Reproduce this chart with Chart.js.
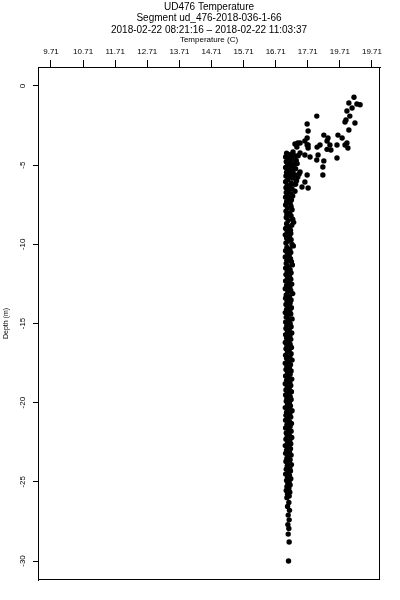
<!DOCTYPE html>
<html>
<head>
<meta charset="utf-8">
<script src="https://cdn.jsdelivr.net/npm/chart.js@4.4.1/dist/chart.umd.min.js"></script>
<style>
  html, body { margin: 0; padding: 0; background: #fff; }
  canvas { display: block; }
</style>
</head>
<body>
<canvas id="chart" width="400" height="600"></canvas>
<script>
// Titles and tick labels
const titleLines = [
  'UD476 Temperature',
  'Segment ud_476-2018-036-1-66',
  '2018-02-22 08:21:16 \u2013 2018-02-22 11:03:37'
];
const xTickValues = [9.71, 10.71, 11.71, 12.71, 13.71, 14.71, 15.71, 16.71, 17.71, 18.71, 19.71];
const xTickLabels = ['9.71', '10.71', '11.71', '12.71', '13.71', '14.71', '15.71', '16.71', '17.71', '19.71', '19.71'];
const yTickValues = [0, -5, -10, -15, -20, -25, -30];

// Scattered warm layer near the surface
const cloudTemp = [19.15, 19.24, 19.34, 18.99, 18.93, 19.09, 19.02, 19.18, 18.90, 18.87, 18.99,
  17.99, 17.69, 17.72, 17.69, 17.62, 17.31, 17.47, 17.72, 18.09, 18.21, 18.34, 18.31, 18.40,
  18.65, 18.78, 18.93, 18.87, 18.96, 18.62, 18.00, 18.31, 17.72, 17.37, 17.40, 17.69,
  17.25, 17.47, 17.62, 17.78, 18.03, 18.43, 17.99, 18.21, 18.62, 17.22, 17.47, 17.69,
  18.18, 17.40, 17.62, 17.53, 17.72, 18.18, 17.38, 17.44, 17.33, 17.41];
const cloudDepth = [-0.71, -1.14, -1.18, -1.07, -1.58, -1.39, -1.90, -2.34, -2.15, -2.27, -2.78,
  -1.90, -2.40, -2.84, -3.28, -3.47, -3.66, -3.60, -3.73, -3.73, -3.10, -3.28, -3.47, -3.73,
  -3.10, -3.28, -3.60, -3.73, -3.92, -3.73, -3.86, -4.00, -3.92, -3.85, -3.60, -3.73,
  -4.17, -4.23, -4.36, -4.48, -4.36, -4.04, -4.67, -4.73, -4.55, -5.18, -5.43, -5.62,
  -5.62, -5.75, -6.06, -6.38, -6.44, -5.12, -4.90, -5.55, -6.20, -4.40];

// Well mixed column below ~4 m
const columnDepth = [
  -4.25, -4.32, -4.40, -4.48, -4.55, -4.62, -4.70, -4.78, -4.85, -4.93,
  -5.00, -5.08, -5.15, -5.23, -5.30, -5.38, -5.45, -5.52, -5.60, -5.68,
  -5.75, -5.82, -5.90, -5.98, -6.05, -6.12, -6.20, -6.28, -6.35, -6.42,
  -6.50, -6.58, -6.65, -6.72, -6.80, -6.88, -6.95, -7.02, -7.10,
  -7.20, -7.31, -7.40, -7.52, -7.61, -7.70, -7.81, -7.90, -8.01, -8.10,
  -8.21, -8.30, -8.41, -8.50, -8.61, -8.70, -8.80, -8.91, -9.00, -9.11,
  -9.20, -9.31, -9.40, -9.52, -9.60, -9.71, -9.80, -9.92, -10.01, -10.10,
  -10.20, -10.31, -10.40, -10.51, -10.60, -10.71, -10.80, -10.90, -11.01, -11.10,
  -11.21, -11.30, -11.41, -11.50, -11.60, -11.71, -11.80, -11.91, -12.00, -12.11,
  -12.20, -12.31, -12.40, -12.51, -12.60, -12.71, -12.80, -12.91, -13.00, -13.11,
  -13.20, -13.31, -13.40, -13.51, -13.60, -13.71, -13.80, -13.91, -14.00, -14.11,
  -14.20, -14.31, -14.40, -14.51, -14.60, -14.71, -14.80, -14.91, -15.00, -15.11,
  -15.20, -15.31, -15.40, -15.51, -15.60, -15.71, -15.80, -15.91, -16.00, -16.11,
  -16.20, -16.31, -16.40, -16.51, -16.60, -16.71, -16.80, -16.91, -17.00, -17.11,
  -17.20, -17.31, -17.40, -17.51, -17.60, -17.71, -17.80, -17.91, -18.00, -18.11,
  -18.20, -18.31, -18.40, -18.51, -18.60, -18.71, -18.80, -18.91, -19.00, -19.11,
  -19.20, -19.31, -19.40, -19.51, -19.60, -19.71, -19.80, -19.91, -20.00, -20.11,
  -20.20, -20.31, -20.40, -20.51, -20.60, -20.71, -20.80, -20.91, -21.00, -21.11,
  -21.20, -21.31, -21.40, -21.51, -21.60, -21.71, -21.80, -21.91, -22.00, -22.11,
  -22.20, -22.31, -22.40, -22.51, -22.60, -22.71, -22.80, -22.91, -23.00, -23.11,
  -23.20, -23.31, -23.40, -23.51, -23.60, -23.71, -23.80, -23.91, -24.00, -24.11,
  -24.20, -24.31, -24.40, -24.51, -24.60, -24.71, -24.80, -24.91, -25.00, -25.11,
  -25.20, -25.30, -25.42, -25.55, -25.65, -25.78, -25.90, -26.00
];
const columnTemp = [
  17.05, 17.18, 17.30, 17.02, 17.12, 17.22, 17.35, 17.04, 17.16, 17.28,
  17.08, 17.20, 17.02, 17.33, 17.12, 17.24, 17.05, 17.17, 17.30, 17.03,
  17.14, 17.25, 17.09, 17.36, 17.02, 17.19, 17.28, 17.07, 17.15, 17.03,
  17.22, 17.11, 17.31, 17.04, 17.17, 17.08, 17.24, 17.02, 17.14,
  17.20, 17.05, 17.16, 17.02, 17.19, 17.08, 17.22, 17.03, 17.15, 17.06,
  17.19, 17.04, 17.24, 17.10, 17.27, 17.05, 17.21, 17.12, 17.02, 17.17,
  17.07, 17.18, 17.01, 17.14, 17.05, 17.19, 17.09, 17.03, 17.22, 17.26,
  17.06, 17.15, 17.02, 17.18, 17.08, 17.13, 17.01, 17.17, 17.06, 17.20,
  17.04, 17.23, 17.11, 17.02, 17.16, 17.07, 17.19, 17.03, 17.14, 17.08,
  17.18, 17.02, 17.12, 17.21, 17.05, 17.15, 17.01, 17.18, 17.09, 17.24,
  17.04, 17.14, 17.02, 17.19, 17.07, 17.16, 17.03, 17.12, 17.20, 17.05,
  17.15, 17.01, 17.18, 17.09, 17.04, 17.22, 17.11, 17.02, 17.16, 17.06,
  17.19, 17.03, 17.13, 17.08, 17.21, 17.02, 17.15, 17.05, 17.18, 17.10,
  17.01, 17.16, 17.06, 17.20, 17.03, 17.13, 17.08, 17.19, 17.02, 17.15,
  17.05, 17.22, 17.09, 17.01, 17.17, 17.06, 17.14, 17.03, 17.19, 17.08,
  17.16, 17.02, 17.12, 17.21, 17.05, 17.15, 17.01, 17.18, 17.07, 17.13,
  17.03, 17.20, 17.09, 17.02, 17.16, 17.06, 17.19, 17.04, 17.14, 17.08,
  17.17, 17.01, 17.12, 17.22, 17.05, 17.15, 17.03, 17.18, 17.09, 17.02,
  17.14, 17.20, 17.06, 17.16, 17.02, 17.11, 17.19, 17.04, 17.13, 17.07,
  17.21, 17.03, 17.15, 17.08, 17.18, 17.01, 17.12, 17.17, 17.05, 17.14,
  17.02, 17.19, 17.09, 17.06, 17.16, 17.03, 17.13, 17.20, 17.07, 17.15,
  17.04, 17.17, 17.10, 17.02, 17.14, 17.08, 17.18, 17.05, 17.13, 17.09,
  17.16, 17.06, 17.12, 17.04, 17.15, 17.08, 17.13, 17.06
];

// Sparse samples at the bottom of the cast
const tailDepth = [-26.30, -26.55, -26.80, -27.10, -27.40, -27.70, -27.95, -28.30, -28.80, -30.00];
const tailTemp = [17.12, 17.08, 17.14, 17.10, 17.13, 17.09, 17.12, 17.10, 17.13, 17.11];

function toPoints(temps, depths) {
  return temps.map((t, i) => ({ x: t, y: depths[i] }));
}

const points = toPoints(cloudTemp, cloudDepth)
  .concat(toPoints(columnTemp, columnDepth))
  .concat(toPoints(tailTemp, tailDepth));

Chart.defaults.font.family = '"Liberation Sans", Arial, sans-serif';
Chart.defaults.color = '#000';

// box round the plot + rotated depth tick labels
const framePlugin = {
  id: 'frame',
  afterDraw(chart) {
    const { ctx, chartArea: a } = chart;
    const yScale = chart.scales.y;
    ctx.save();
    ctx.strokeStyle = '#000';
    ctx.lineWidth = 1;
    ctx.strokeRect(Math.round(a.left) + 0.5, Math.round(a.top) + 0.5,
      Math.round(a.right - a.left) - 1, Math.round(a.bottom - a.top) - 1);

    ctx.fillStyle = '#000';
    ctx.font = '8px "Liberation Sans", Arial, sans-serif';
    ctx.textAlign = 'center';
    ctx.textBaseline = 'middle';
    yTickValues.forEach(v => {
      const py = yScale.getPixelForValue(v);
      ctx.save();
      ctx.translate(23, py);
      ctx.rotate(-Math.PI / 2);
      ctx.fillText(String(v), 0, 0);
      ctx.restore();
    });
    ctx.restore();
  }
};

new Chart(document.getElementById('chart').getContext('2d'), {
  type: 'scatter',
  data: {
    datasets: [{
      label: 'Temperature',
      data: points,
      pointStyle: 'circle',
      pointRadius: 2.7,
      pointBorderWidth: 0,
      backgroundColor: '#000',
      borderColor: '#000'
    }]
  },
  options: {
    responsive: false,
    animation: false,
    layout: { padding: { top: 0, left: 0, right: 20, bottom: 20 } },
    plugins: {
      legend: { display: false },
      tooltip: { enabled: false },
      title: {
        display: true,
        fullSize: false,
        text: titleLines,
        color: '#000',
        font: { size: 10, weight: 'normal', lineHeight: 1.15 },
        padding: { top: 1, bottom: 0 }
      }
    },
    scales: {
      x: {
        type: 'linear',
        position: 'top',
        min: 9.305,
        max: 19.96,
        afterBuildTicks: scale => { scale.ticks = xTickValues.map(v => ({ value: v })); },
        afterFit: scale => { scale.height = 31.5; },
        grid: { drawOnChartArea: false, drawTicks: true, tickLength: 7, color: '#000' },
        border: { display: true, color: '#000', width: 1 },
        ticks: {
          autoSkip: false,
          maxRotation: 0,
          padding: 3,
          font: { size: 8 },
          callback: (value, i) => xTickLabels[i]
        },
        title: {
          display: true,
          text: 'Temperature (C)',
          font: { size: 8, lineHeight: 1 },
          padding: { top: 0, bottom: 0 }
        }
      },
      y: {
        type: 'linear',
        position: 'left',
        min: -31.2,
        max: 1.2,
        afterBuildTicks: scale => { scale.ticks = yTickValues.map(v => ({ value: v })); },
        afterFit: scale => { scale.width = 38; },
        grid: { drawOnChartArea: false, drawTicks: true, tickLength: 5, color: '#000' },
        border: { display: true, color: '#000', width: 1 },
        ticks: { display: false },
        title: {
          display: true,
          text: 'Depth (m)',
          font: { size: 7, lineHeight: 1.2 },
          padding: { top: 2, bottom: 0 }
        }
      }
    }
  },
  plugins: [framePlugin]
});
</script>
</body>
</html>
